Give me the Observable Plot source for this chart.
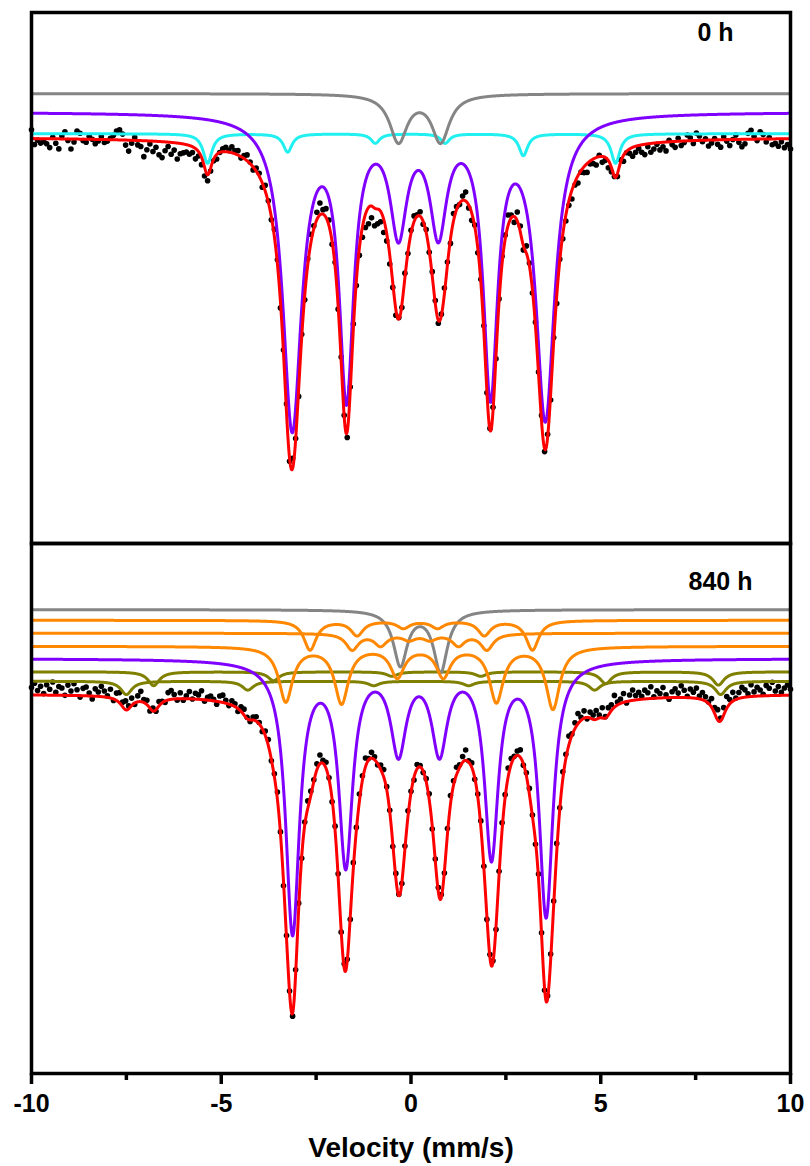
<!DOCTYPE html>
<html><head><meta charset="utf-8">
<script src="https://cdn.jsdelivr.net/npm/d3@7"></script>
<script src="https://cdn.jsdelivr.net/npm/@observablehq/plot@0.6"></script>
<style>
body{margin:0;background:#fff;}
#chart{position:relative;width:810px;height:1166px;}
#top{position:absolute;left:0;top:0;}
#bot{position:absolute;left:0;top:541px;}
</style></head><body><div id="chart"><div id="top"></div><div id="bot"></div></div>
<script>
// ---------- axis / labels ----------
const velocityTicks = [-10, -5, 0, 5, 10];
const minorTicks = [-7.5, -2.5, 2.5, 7.5];
const panelLabels = ["0 h", "840 h"];
const xTitle = "Velocity (mm/s)";

// ---------- 0 h panel: sub-spectra (offset above baseline in %, lines [centre mm/s, depth %, HWHM mm/s]) ----------
const top0Grey = [[-0.33, 1.60, 0.28], [0.78, 1.60, 0.28]];
const top0GreyOffset = 1.48;
const top0Cyan = [[-5.36, 1.00, 0.14], [-3.25, 0.62, 0.14], [-0.94, 0.32, 0.14], [0.90, 0.32, 0.14], [2.96, 0.74, 0.14], [5.39, 1.00, 0.14]];
const top0CyanOffset = 0.12;
const top0Purple = [[-3.13, 10.55, 0.30], [-1.70, 9.25, 0.23], [-0.33, 3.70, 0.27], [0.72, 3.70, 0.27], [2.095, 9.17, 0.23], [3.54, 10.20, 0.30]];
const top0PurpleOffset = 0.856;
// residuals of the measured points from the total fit (%), channels every 0.08 mm/s from -10
const top0Resid = [
 0.30,-0.20,-0.05,-0.15,-0.10,-0.17,-0.30,0.05,-0.15,-0.34,0.10,0.24,-0.05,-0.34,-0.10,0.27,0.20,-0.05,-0.10,0.10,0.00,-0.15,-0.05,0.10,-0.10,
 -0.05,0.05,0.15,0.30,0.34,0.20,-0.17,-0.37,-0.10,0.10,-0.15,-0.20,-0.54,-0.30,-0.10,-0.35,-0.20,-0.45,-0.54,-0.30,-0.15,-0.40,-0.25,-0.54,-0.35,
 -0.30,-0.25,-0.30,-0.20,-0.35,-0.15,-0.25,-0.30,-0.20,-0.10,-0.05,-0.15,0.00,0.10,0.15,0.05,0.20,0.10,0.15,-0.05,0.10,0.20,0.05,-0.10,0.10,
 0.10,-0.15,0.20,0.05,-0.10,0.25,0.15,-0.20,0.10,0.30,-0.10,0.35,0.05,-0.25,0.10,-0.15,0.20,0.30,0.10,0.25,0.40,0.15,0.30,0.20,-0.10,0.15,
 -0.10,0.15,0.05,-0.20,0.10,0.20,-0.15,-0.25,-0.35,-0.45,-0.55,-0.40,-0.60,-0.50,-0.35,-0.45,-0.25,-0.30,-0.15,-0.20,0.05,-0.10,0.15,-0.05,0.10,
 0.20,0.05,0.15,-0.10,0.10,-0.05,0.15,0.10,-0.10,0.05,0.20,0.10,-0.15,0.25,0.10,-0.05,0.15,0.30,-0.10,-0.25,0.05,-0.15,0.10,0.20,-0.05,
 0.05,0.15,-0.10,0.10,0.25,0.15,0.35,0.10,-0.20,0.30,0.20,-0.15,0.25,0.10,-0.10,0.15,0.05,0.20,-0.10,0.10,-0.20,0.15,-0.25,0.05,-0.15,
 -0.20,-0.15,-0.30,-0.10,-0.25,-0.05,-0.20,-0.30,-0.10,-0.15,-0.25,0.05,-0.20,-0.10,-0.25,-0.15,0.00,-0.10,0.10,-0.20,-0.05,-0.15,-0.30,-0.20,-0.10,
 -0.25,-0.35,-0.10,-0.30,-0.20,-0.05,-0.25,-0.15,-0.30,0.05,-0.10,-0.20,0.10,-0.15,-0.05,0.20,0.10,-0.10,0.25,0.15,-0.05,0.05,-0.20,-0.10,0.05,
 -0.15,-0.25,0.10,-0.05,-0.20,0.00,0.15,-0.10,-0.25,-0.15,0.20,0.30,0.10,-0.05,0.25,0.15,-0.10,0.05,-0.20,-0.15,-0.25,-0.10,-0.30,-0.20,-0.35];

// ---------- 840 h panel ----------
const h840Grey = [[-0.28, 1.86, 0.22], [0.78, 2.07, 0.22]];
const h840GreyOffset = 2.86;
const h840OrangeA = [[-2.66, 1.00, 0.20], [-1.42, 0.50, 0.20], [-0.20, 0.25, 0.20], [0.70, 0.25, 0.20], [1.93, 0.50, 0.20], [3.20, 1.00, 0.20]];
const h840OrangeAOffset = 2.50;
const h840OrangeB = [[-1.55, 0.55, 0.20], [-0.80, 0.40, 0.20], [-0.05, 0.20, 0.20], [0.50, 0.20, 0.20], [1.25, 0.40, 0.20], [2.00, 0.55, 0.20]];
const h840OrangeBOffset = 2.06;
const h840OrangeC = [[-3.30, 1.85, 0.22], [-1.83, 1.90, 0.22], [-0.36, 1.00, 0.22], [0.85, 1.00, 0.22], [2.25, 1.85, 0.22], [3.74, 2.10, 0.22]];
const h840OrangeCOffset = 1.617;
const h840Purple = [[-3.12, 9.20, 0.22], [-1.72, 6.80, 0.22], [-0.33, 2.97, 0.25], [0.75, 2.97, 0.25], [2.12, 6.55, 0.22], [3.56, 8.61, 0.22]];
const h840PurpleOffset = 1.20;
const h840OliveA = [[-6.78, 0.47, 0.18], [-3.62, 0.30, 0.18], [-0.50, 0.15, 0.18], [1.84, 0.15, 0.18], [5.13, 0.40, 0.18], [8.10, 0.45, 0.18]];
const h840OliveAOffset = 0.75;
const h840OliveB = [[-7.50, 0.45, 0.18], [-4.30, 0.30, 0.18], [-0.98, 0.15, 0.18], [1.52, 0.15, 0.18], [4.84, 0.30, 0.18], [8.16, 0.45, 0.18]];
const h840OliveBOffset = 0.43;
const h840Resid = [
 0.25,0.40,0.15,0.30,0.05,0.35,0.20,0.45,0.10,0.30,0.25,0.00,0.35,0.15,0.40,0.20,-0.05,0.25,0.30,0.10,-0.10,0.25,0.15,0.35,0.20,
 0.05,0.30,-0.05,0.25,0.35,0.15,0.30,0.10,0.25,-0.05,0.20,0.35,0.10,0.15,-0.10,0.10,-0.05,0.15,0.05,-0.05,0.25,0.30,0.15,-0.05,0.20,
 -0.05,0.10,0.25,0.00,0.20,0.15,0.30,-0.05,0.10,0.15,0.05,-0.10,0.20,0.25,0.10,-0.05,0.15,0.10,-0.10,0.15,0.20,0.05,-0.05,0.10,0.15,
 0.05,-0.10,0.15,0.20,-0.05,0.10,0.25,0.05,-0.15,0.10,0.05,-0.10,0.15,0.20,-0.05,0.10,0.25,0.15,0.05,0.20,0.30,0.10,0.20,0.05,-0.10,0.15,
 0.10,-0.05,0.15,0.05,-0.10,0.20,0.10,0.25,0.15,0.30,0.05,0.20,0.10,-0.05,0.15,0.25,0.10,0.05,-0.10,0.15,0.05,-0.05,0.10,0.20,0.05,
 -0.10,0.15,0.05,-0.05,0.10,0.20,-0.10,0.05,0.15,0.10,-0.05,0.20,0.30,0.15,0.25,0.10,0.20,0.35,0.05,0.15,-0.05,0.10,0.20,0.05,-0.10,
 0.10,0.05,-0.10,0.15,0.25,0.10,0.30,0.20,0.05,0.15,0.25,-0.05,0.10,0.20,0.05,-0.10,0.15,0.05,-0.05,0.10,0.20,0.15,0.30,0.05,0.25,
 0.15,0.30,0.05,0.20,0.35,0.10,0.25,-0.05,0.20,0.15,0.30,0.10,0.35,0.05,0.25,0.20,0.40,0.10,0.15,0.30,-0.05,0.20,0.35,0.15,0.25,
 0.10,0.30,0.20,0.40,0.05,0.25,0.15,0.35,0.10,-0.05,0.20,0.30,0.15,0.40,0.25,0.05,0.30,0.20,0.35,0.10,0.25,0.15,0.05,0.30,0.20,
 0.35,0.10,0.25,0.40,0.15,0.30,0.05,0.20,0.35,0.25,0.10,0.40,0.15,0.30,0.20,0.05,0.35,0.25,0.45,0.15,0.30,0.10,0.25,0.35,0.20];

// ---------- colours ----------
const colors = {grey: "#858585", cyan: "#22f0f0", purple: "#8000ff", red: "#ff0000", orange: "#ff8800", olive: "#808000"};

// ---------- helpers: Lorentzian sub-spectra ----------
const vFine = d3.range(0, 2001).map(i => -10 + i * 0.01);
const chan = (resid) => resid.map((_, k) => -10 + k * 0.08);
function absorb(lines, v) { let s = 0; for (const [c, d, g] of lines) s += d * g * g / ((v - c) ** 2 + g * g); return s; }
function sub(lines, offset) { return vFine.map(v => ({v, t: 100 + offset - absorb(lines, v)})); }
function total(comps, v) { return 100 - comps.reduce((s, L) => s + absorb(L, v), 0); }
function fit(comps) { return vFine.map(v => ({v, t: total(comps, v)})); }
function points(comps, resid) { const vs = chan(resid); return resid.map((r, k) => ({v: vs[k], t: total(comps, vs[k]) + r})); }

const font = "'Liberation Sans', Arial, Helvetica, sans-serif";
const lineOpts = (c) => ({x: "v", y: "t", stroke: c, strokeWidth: 3, strokeLinejoin: "round", strokeLinecap: "round"});
const labelOpts = {fontSize: 25, fontWeight: "bold", fill: "black", textAnchor: "end", lineAnchor: "middle", frameAnchor: "top-right"};

// ---------- 0 h panel ----------
const compsTop = [top0Grey, top0Cyan, top0Purple];
const topPlot = Plot.plot({
  width: 810, height: 545, marginLeft: 31, marginRight: 20, marginTop: 12, marginBottom: 2,
  x: {domain: [-10, 10], axis: null},
  y: {domain: [86.23, 104.23], axis: null},
  style: {background: "transparent", overflow: "visible", fontFamily: font},
  marks: [
    Plot.dot(points(compsTop, top0Resid), {x: "v", y: "t", r: 2.8, fill: "black"}),
    Plot.line(sub(top0Cyan, top0CyanOffset), lineOpts(colors.cyan)),
    Plot.line(sub(top0Grey, top0GreyOffset), lineOpts(colors.grey)),
    Plot.line(sub(top0Purple, top0PurpleOffset), lineOpts(colors.purple)),
    Plot.line(fit(compsTop), lineOpts(colors.red)),
    Plot.frame({stroke: "black", strokeWidth: 3.5}),
    Plot.text([panelLabels[0]], {...labelOpts, dx: -57, dy: 20})
  ]
});
document.getElementById("top").append(topPlot);

// ---------- 840 h panel ----------
const compsBot = [h840Grey, h840OrangeA, h840OrangeB, h840OrangeC, h840Purple, h840OliveA, h840OliveB];
const botPlot = Plot.plot({
  width: 810, height: 625, marginLeft: 31, marginRight: 20, marginTop: 2, marginBottom: 93,
  x: {domain: [-10, 10]},
  y: {domain: [87.108, 105.108], axis: null},
  style: {background: "transparent", overflow: "visible", fontFamily: font},
  marks: [
    Plot.dot(points(compsBot, h840Resid), {x: "v", y: "t", r: 2.8, fill: "black"}),
    Plot.line(sub(h840OliveA, h840OliveAOffset), lineOpts(colors.olive)),
    Plot.line(sub(h840OliveB, h840OliveBOffset), lineOpts(colors.olive)),
    Plot.line(sub(h840Grey, h840GreyOffset), lineOpts(colors.grey)),
    Plot.line(sub(h840OrangeA, h840OrangeAOffset), lineOpts(colors.orange)),
    Plot.line(sub(h840OrangeB, h840OrangeBOffset), lineOpts(colors.orange)),
    Plot.line(sub(h840OrangeC, h840OrangeCOffset), lineOpts(colors.orange)),
    Plot.line(sub(h840Purple, h840PurpleOffset), lineOpts(colors.purple)),
    Plot.line(fit(compsBot), lineOpts(colors.red)),
    Plot.frame({stroke: "black", strokeWidth: 3.5}),
    Plot.axisX({ticks: velocityTicks, tickSize: 11, strokeWidth: 3.5, tickPadding: 10, fontSize: 25, fontWeight: "bold", label: null, fill: "black", tickFormat: d => String(d)}),
    Plot.axisX({ticks: minorTicks, tickSize: 7, strokeWidth: 3.5, tickFormat: () => "", label: null}),
    Plot.text([xTitle], {frameAnchor: "bottom", lineAnchor: "middle", dy: 75, fontSize: 28, fontWeight: "bold", fill: "black"}),
    Plot.text([panelLabels[1]], {...labelOpts, dx: -38, dy: 38})
  ]
});
document.getElementById("bot").append(botPlot);
</script></body></html>
